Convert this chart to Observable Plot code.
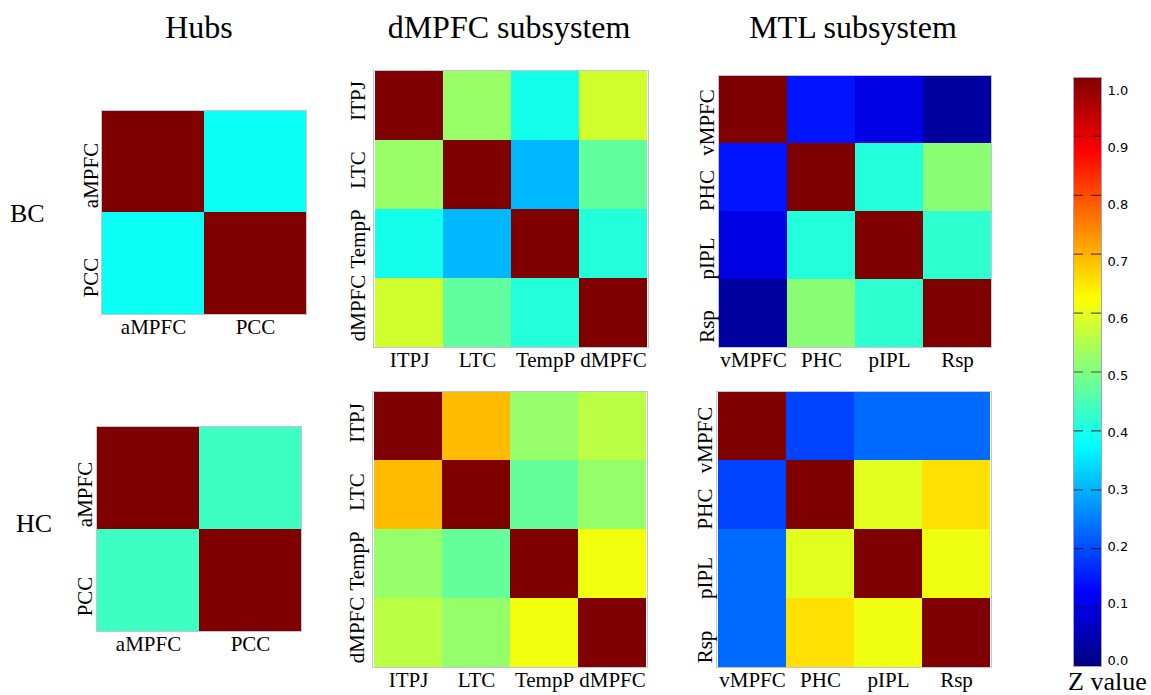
<!DOCTYPE html>
<html>
<head>
<meta charset="utf-8">
<script src="https://cdn.jsdelivr.net/npm/d3@7"></script>
<script src="https://cdn.jsdelivr.net/npm/@observablehq/plot@0.6"></script>
<style>
  html, body { margin: 0; padding: 0; background: #fff; }
  #fig { position: relative; width: 1151px; height: 695px; background: #fff; overflow: hidden;
         font-family: "Liberation Serif", "Times New Roman", serif; color: #000; }
  .lbl { position: absolute; white-space: nowrap; line-height: 1; }
</style>
</head>
<body>
<div id="fig"></div>
<script>
// ---------- data ----------
const panelTitles = ["Hubs", "dMPFC subsystem", "MTL subsystem"];
const groupLabels = ["BC", "HC"];
const hubLabels = ["aMPFC", "PCC"];
const dmpfcLabels = ["ITPJ", "LTC", "TempP", "dMPFC"];
const mtlLabels = ["vMPFC", "PHC", "pIPL", "Rsp"];

const hubsBC = [
  [1.00, 0.385],
  [0.385, 1.00]
];
const hubsHC = [
  [1.00, 0.435],
  [0.435, 1.00]
];
const dmpfcBC = [
  [1.00, 0.525, 0.395, 0.58],
  [0.525, 1.00, 0.305, 0.47],
  [0.395, 0.305, 1.00, 0.41],
  [0.58, 0.47, 0.41, 1.00]
];
const dmpfcHC = [
  [1.00, 0.692, 0.522, 0.558],
  [0.692, 1.00, 0.473, 0.52],
  [0.522, 0.473, 1.00, 0.612],
  [0.558, 0.52, 0.612, 1.00]
];
const mtlBC = [
  [1.00, 0.145, 0.10, 0.03],
  [0.145, 1.00, 0.41, 0.51],
  [0.10, 0.41, 1.00, 0.42],
  [0.03, 0.51, 0.42, 1.00]
];
const mtlHC = [
  [1.00, 0.19, 0.228, 0.228],
  [0.19, 1.00, 0.595, 0.655],
  [0.228, 0.595, 1.00, 0.61],
  [0.228, 0.655, 0.61, 1.00]
];
const colorbarTicks = [0.0, 0.1, 0.2, 0.3, 0.4, 0.5, 0.6, 0.7, 0.8, 0.9, 1.0];
const colorbarTitle = "Z value";

// jet colormap
const jetDomain = [0, 0.125, 0.375, 0.625, 0.875, 1];
const jetColors = ["#00007f", "#0000ff", "#00ffff", "#ffff00", "#ff0000", "#7f0000"];
const jet = {type: "linear", domain: jetDomain, range: jetColors, interpolate: "rgb", clamp: true};

const fig = document.getElementById("fig");

function addLabel(text, css) {
  const d = document.createElement("div");
  d.className = "lbl";
  d.textContent = text;
  d.style.cssText += css;
  fig.append(d);
}

function heat(labels, matrix, box, labelDx, labelDy) {
  const [bx, by, bw, bh] = box;
  const ML = 40, MT = 4, MR = 4, MB = 40;
  const cells = matrix.flatMap((row, i) => row.map((v, j) => ({row: labels[i], col: labels[j], value: v})));
  const svg = Plot.plot({
    width: ML + bw + MR,
    height: MT + bh + MB,
    marginLeft: ML, marginTop: MT, marginRight: MR, marginBottom: MB,
    style: {fontFamily: "'Liberation Serif', 'Times New Roman', serif", fontSize: "21px", color: "#000", background: "none", overflow: "visible"},
    x: {domain: labels, padding: 0},
    y: {domain: labels, padding: 0, axis: null},
    color: jet,
    marks: [
      Plot.cell(cells, {x: "col", y: "row", fill: "value", inset: 0}),
      Plot.frame({stroke: "#c4c4d6", strokeWidth: 1}),
      Plot.axisX({tickSize: 0, tickPadding: 5, fontSize: 21, label: null, fill: "#000"}),
      Plot.text(labels, {y: d => d, text: d => d, frameAnchor: "left", rotate: -90, dx: -labelDx, dy: labelDy,
                         textAnchor: "middle", lineAnchor: "bottom", fontSize: 21, fill: "#000"})
    ]
  });
  const wrap = document.createElement("div");
  wrap.style.cssText = `position:absolute;left:${bx - ML}px;top:${by - MT}px;`;
  wrap.append(svg);
  fig.append(wrap);
}

// titles
addLabel(panelTitles[0], "left:99px;width:200px;text-align:center;top:11px;font-size:32px;");
addLabel(panelTitles[1], "left:359px;width:300px;text-align:center;top:11px;font-size:32px;");
addLabel(panelTitles[2], "left:703px;width:300px;text-align:center;top:11px;font-size:32px;");
addLabel(groupLabels[0], "left:10px;top:201px;font-size:26px;");
addLabel(groupLabels[1], "left:16px;top:511px;font-size:26px;");

// heatmaps
heat(hubLabels, hubsBC, [101, 110, 205, 204], 4, 14);
heat(dmpfcLabels, dmpfcBC, [373, 70, 275, 277], 9, -5);
heat(mtlLabels, mtlBC, [718, 75, 273, 272], 5, 13);
heat(hubLabels, hubsHC, [96, 426, 205, 205], 5, 16);
heat(dmpfcLabels, dmpfcHC, [372, 391, 275, 276], 9, -3);
heat(mtlLabels, mtlHC, [716, 391, 275, 276], 5, 14);

// colorbar
(function colorbar() {
  const bx = 1073, by = 77, bw = 28, bh = 589;
  const ML = 0, MT = 10, MR = 50, MB = 10;
  const step = 0.0025;
  const grad = d3.range(0, 1, step).map(v => ({lo: v, hi: Math.min(1, v + 3 * step), mid: v + step / 2}));
  const inner = colorbarTicks.filter(t => t > 0 && t < 1);
  const svg = Plot.plot({
    width: ML + bw + MR,
    height: MT + bh + MB,
    marginLeft: ML, marginTop: MT, marginRight: MR, marginBottom: MB,
    style: {fontFamily: "'DejaVu Sans', sans-serif", fontSize: "13px", color: "#000", background: "none", overflow: "visible"},
    x: {axis: null},
    y: {domain: [0, 1], axis: null},
    color: jet,
    marks: [
      Plot.rect(grad, {y1: "lo", y2: "hi", fill: "mid", shapeRendering: "crispEdges"}),
      Plot.ruleY(inner, {stroke: "#2a1010", strokeOpacity: 0.7, strokeWidth: 1.2, strokeDasharray: "10,8"}),
      Plot.frame({stroke: "#a8a0c8", strokeWidth: 1}),
      ...colorbarTicks.map(t => Plot.text([t], {y: d => d, text: d => d.toFixed(1), frameAnchor: "right",
        dx: 6, dy: 19 * t - 6, textAnchor: "start", fontSize: 13, fill: "#000"}))
    ]
  });
  const wrap = document.createElement("div");
  wrap.style.cssText = `position:absolute;left:${bx - ML}px;top:${by - MT}px;`;
  wrap.append(svg);
  fig.append(wrap);
})();

addLabel(colorbarTitle, "left:1068px;top:669px;font-size:26px;");
</script>
</body>
</html>
